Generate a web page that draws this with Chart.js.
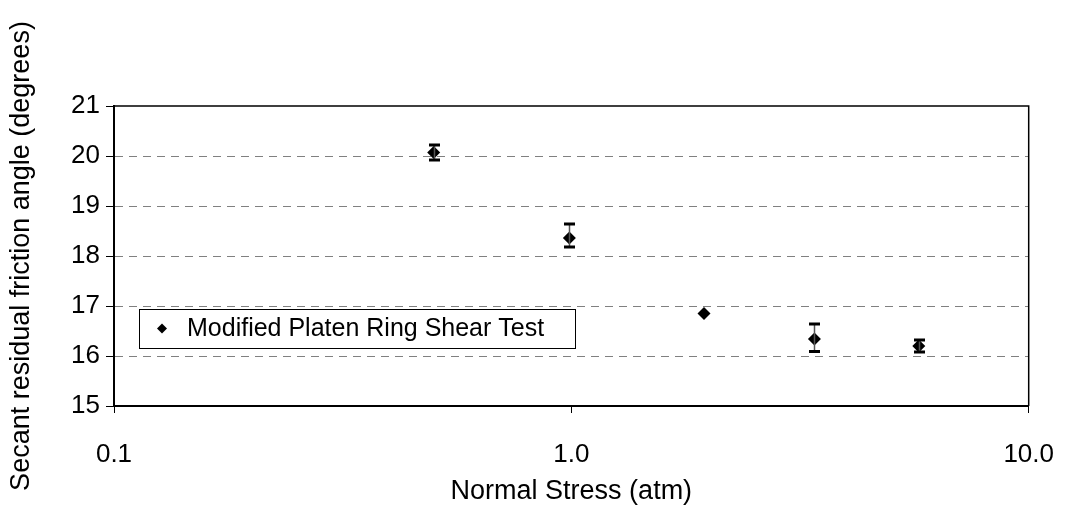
<!DOCTYPE html>
<html>
<head>
<meta charset="utf-8">
<script src="https://cdn.jsdelivr.net/npm/chart.js@4.4.1/dist/chart.umd.min.js"></script>
<style>
  html, body { margin: 0; padding: 0; background: #fff; }
  #wrap { width: 1080px; height: 510px; }
</style>
</head>
<body>
<div id="wrap"><canvas id="chart" width="1080" height="510"></canvas></div>
<script>
// normal stress (atm) and secant residual friction angle (degrees)
const stress = [0.5, 0.99, 1.95, 3.4, 5.75];
const angle = [20.07, 18.36, 16.85, 16.34, 16.20];
const errLow = [19.92, 18.18, 16.85, 16.09, 16.08];
const errHigh = [20.22, 18.64, 16.85, 16.64, 16.32];
const xTicks = [0.1, 1, 10];
const seriesName = 'Modified Platen Ring Shear Test';
const xTitle = 'Normal Stress (atm)';
const yTitle = 'Secant residual friction angle (degrees)';

const FONT = 'Arial, "Liberation Sans", sans-serif';

const errorBars = {
    id: 'errorBars',
    afterDatasetsDraw(chart) {
        const ctx = chart.ctx;
        const xs = chart.scales.x, ys = chart.scales.y;
        ctx.save();
        stress.forEach((s, i) => {
            if (errHigh[i] - errLow[i] < 0.01) return;
            const x = Math.round(xs.getPixelForValue(s)) + 0.5;
            const yHi = ys.getPixelForValue(errHigh[i]);
            const yLo = ys.getPixelForValue(errLow[i]);
            ctx.strokeStyle = '#555';
            ctx.lineWidth = 1.5;
            ctx.beginPath();
            ctx.moveTo(x, yHi);
            ctx.lineTo(x, yLo);
            ctx.stroke();
            ctx.strokeStyle = '#000';
            ctx.lineWidth = 3;
            ctx.beginPath();
            ctx.moveTo(x - 5.5, yHi); ctx.lineTo(x + 5.5, yHi);
            ctx.moveTo(x - 5.5, yLo); ctx.lineTo(x + 5.5, yLo);
            ctx.stroke();
        });
        ctx.restore();
    }
};

const frameAndLegend = {
    id: 'frameAndLegend',
    afterDraw(chart) {
        const ctx = chart.ctx;
        const a = chart.chartArea;
        ctx.save();
        // top and right frame
        ctx.strokeStyle = '#000';
        ctx.lineWidth = 1.5;
        ctx.beginPath();
        ctx.moveTo(a.left, a.top);
        ctx.lineTo(a.right, a.top);
        ctx.lineTo(a.right, a.bottom);
        ctx.stroke();

        // legend box inside the plot
        const bx = 139, by = 309, bw = 436, bh = 39;
        ctx.fillStyle = '#fff';
        ctx.fillRect(bx, by, bw, bh);
        ctx.lineWidth = 1;
        ctx.strokeRect(bx + 0.5, by + 0.5, bw, bh);
        const mx = 162, my = by + bh / 2;
        ctx.fillStyle = '#000';
        ctx.beginPath();
        ctx.moveTo(mx, my - 5); ctx.lineTo(mx + 5, my);
        ctx.lineTo(mx, my + 5); ctx.lineTo(mx - 5, my);
        ctx.closePath();
        ctx.fill();
        ctx.font = '25px ' + FONT;
        ctx.textBaseline = 'middle';
        ctx.fillText(chart.data.datasets[0].label, 187, my + 1);

        // y axis title, centred on the plot
        ctx.translate(22, (a.top + a.bottom) / 2);
        ctx.rotate(-Math.PI / 2);
        ctx.textAlign = 'center';
        ctx.font = '27px ' + FONT;
        ctx.fillText(yTitle, 0, 0);
        ctx.restore();
    }
};

const points = stress.map((s, i) => ({ x: s, y: angle[i] }));

new Chart(document.getElementById('chart').getContext('2d'), {
    type: 'scatter',
    data: {
        datasets: [{
            label: seriesName,
            data: points,
            pointStyle: 'rectRot',
            pointRadius: 6.5,
            pointHoverRadius: 6.5,
            backgroundColor: '#000',
            borderColor: '#000',
            borderWidth: 0
        }]
    },
    options: {
        responsive: false,
        animation: false,
        events: [],
        layout: { padding: { top: 106, right: 31, left: 0, bottom: 0 } },
        plugins: {
            legend: { display: false },
            tooltip: { enabled: false }
        },
        scales: {
            x: {
                type: 'logarithmic',
                min: 0.1,
                max: 10,
                afterBuildTicks: (scale) => {
                    scale.ticks = xTicks.map(v => ({ value: v }));
                },
                afterFit: (scale) => { scale.height = 104; },
                grid: {
                    drawOnChartArea: false,
                    drawTicks: true,
                    tickLength: 7,
                    tickColor: '#000',
                    tickWidth: 1
                },
                border: { display: true, color: '#000', width: 2 },
                ticks: {
                    color: '#000',
                    font: { size: 26, family: FONT },
                    padding: 26,
                    maxRotation: 0,
                    autoSkip: false,
                    callback: (v) => Number(v).toFixed(1)
                },
                title: {
                    display: true,
                    text: xTitle,
                    color: '#000',
                    font: { size: 27, family: FONT },
                    padding: { top: 0, bottom: 2 }
                }
            },
            y: {
                min: 15,
                max: 21,
                afterFit: (scale) => { scale.width = 114; },
                grid: {
                    color: (c) => (c.tick && (c.tick.value === 15 || c.tick.value === 21)) ? 'rgba(0,0,0,0)' : '#808080',
                    lineWidth: 1,
                    drawTicks: true,
                    tickLength: 8,
                    tickColor: '#000',
                    tickWidth: 1
                },
                border: { display: true, color: '#000', width: 2, dash: [8, 6] },
                ticks: {
                    stepSize: 1,
                    color: '#000',
                    font: { size: 26, family: FONT },
                    padding: 6
                }
            }
        }
    },
    plugins: [errorBars, frameAndLegend]
});
</script>
</body>
</html>
